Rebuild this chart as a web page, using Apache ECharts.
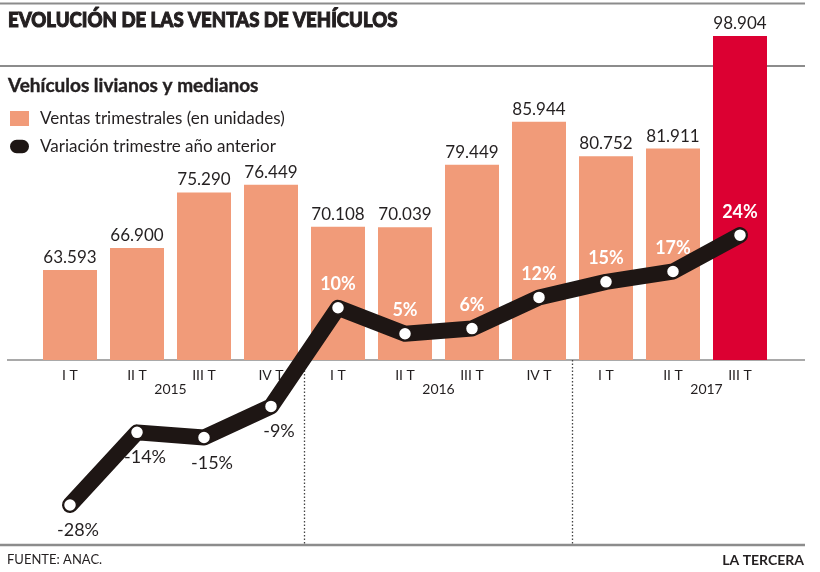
<!DOCTYPE html>
<html>
<head>
<meta charset="utf-8">
<script src="https://cdn.jsdelivr.net/npm/echarts@6/dist/echarts.min.js"></script>
<style>
html,body{margin:0;padding:0;background:#fff;}
#c{width:820px;height:572px;}
</style>
</head>
<body>
<div id="c"></div>
<script>
// ---- data ----
var trimestres = ['I T','II T','III T','IV T','I T','II T','III T','IV T','I T','II T','III T'];
var anios = ['2015','2016','2017'];
var trimestresPorAnio = [4, 4, 3];
var ventas = [63593, 66900, 75290, 76449, 70108, 70039, 79449, 85944, 80752, 81911, 98904];
var variacion = [-28, -14, -15, -9, 10, 5, 6, 12, 15, 17, 24];
var titulo = 'EVOLUCIÓN DE LAS VENTAS DE VEHÍCULOS';
var subtitulo = 'Vehículos livianos y medianos';
var serieVentas = 'Ventas trimestrales (en unidades)';
var serieVariacion = 'Variación trimestre año anterior';
var fuente = 'FUENTE: ANAC.';
var medio = 'LA TERCERA';

// ---- styles ----
var SALMON = '#f19b79';
var RED = '#dc0032';
var INK = '#1e1614';
var TXT = '#231f20';
var GRAY = '#8c8c8c';
var FONT = 'Lato, "Noto Sans", sans-serif';

function miles(v){ return String(v).replace(/\B(?=(\d{3})+(?!\d))/g, '.'); }

var chart = echarts.init(document.getElementById('c'), null, {renderer:'canvas'});

var barData = ventas.map(function(v, i){
  return {value: v, itemStyle: {color: i === ventas.length - 1 ? RED : SALMON}};
});
var lineData = variacion.map(function(v){
  var neg = v < 0;
  return {
    value: v,
    label: neg ? {position:'bottom', distance: 9, offset:[8,0], color: TXT, fontWeight:'normal'}
               : {position:'top', distance: 7, color:'#fff', fontWeight:'bold'}
  };
});

var gridL = 36.5, gridW = 737;

var option = {
  backgroundColor: '#fff',
  animation: false,
  textStyle: {fontFamily: FONT},
  legend: {
    orient: 'vertical', left: 10, top: 110, padding: 0,
    itemWidth: 19, itemHeight: 15, itemGap: 11,
    selectedMode: false,
    textStyle: {fontSize: 17, color: TXT, fontFamily: FONT, padding:[0,0,0,6]},
    data: [
      {name: serieVentas, icon: 'rect', itemStyle: {color: SALMON}},
      {name: serieVariacion, icon: 'path://M7,0H13A7,7,0,0,1,13,14H7A7,7,0,0,1,7,0Z', itemStyle: {color: INK, borderWidth:0}}
    ]
  },
  grid: [
    {left: gridL, width: gridW, top: 28.65, bottom: 212},
    {left: gridL, width: gridW, top: 204, bottom: 56.6}
  ],
  xAxis: [
    {type:'category', gridIndex:0, data: trimestres,
     axisLine:{show:false}, axisTick:{show:false},
     axisLabel:{color: TXT, fontSize: 14, margin: 8, fontFamily: FONT}},
    {type:'category', gridIndex:1, data: trimestres, show:false}
  ],
  yAxis: [
    {type:'value', gridIndex:0, min: 50000, max: 100000, show:false, splitLine:{show:false}},
    {type:'value', gridIndex:1, min: -30, max: 30, show:false, splitLine:{show:false}}
  ],
  series: [
    {
      name: serieVentas, type:'bar', xAxisIndex:0, yAxisIndex:0,
      data: barData, barWidth: 54, z: 2,
      label: {show:true, position:'top', distance: 4, fontSize: 17, color: TXT, fontFamily: FONT,
              formatter: function(p){ return miles(p.value); }}
    },
    {
      name: serieVariacion, type:'line', xAxisIndex:1, yAxisIndex:1,
      data: lineData, z: 5,
      lineStyle: {color: INK, width: 16, cap:'round', join:'round'},
      symbol:'circle', symbolSize: 13,
      itemStyle: {color:'#fff', borderColor: INK, borderWidth: 1.5},
      label: {show:true, fontSize: 18, fontFamily: FONT,
              formatter: function(p){ return p.value + '%'; }}
    }
  ]
};
chart.setOption(option);

// ---- decorations computed from axes ----
function xPix(i){ return chart.convertToPixel({xAxisIndex:0}, i); }
var yBase = chart.convertToPixel({yAxisIndex:0}, 50000);
var g = [];
function hline(y, x1, x2, w){
  g.push({type:'line', z:-1, shape:{x1:x1, y1:y, x2:x2, y2:y}, style:{stroke:GRAY, lineWidth:w}});
}
hline(3.5, 0, 805, 2);
hline(66, 0, 805, 2);
hline(545, 0, 805, 2.5);
hline(yBase, 7, 805, 1.5);

var start = 0;
trimestresPorAnio.forEach(function(n, k){
  var cx = (xPix(start + 1) + xPix(start + 2)) / 2;
  g.push({type:'text', x: cx, y: yBase + 29, style:{text: anios[k], font: '14px ' + FONT, fill: TXT, textAlign:'center', textVerticalAlign:'middle'}});
  if (k > 0) {
    var sx = (xPix(start - 1) + xPix(start)) / 2;
    g.push({type:'line', z:-1, shape:{x1:sx, y1:yBase, x2:sx, y2:545}, style:{stroke:'#444', lineWidth:1.3, lineDash:[1.5,2]}});
  }
  start += n;
});

g.push({type:'text', x: 8, y: 21, scaleX: 0.93, style:{text: titulo, font: '900 20px ' + FONT, fill: TXT, stroke: TXT, lineWidth: 1, textVerticalAlign:'middle'}});
g.push({type:'text', x: 8, y: 86, style:{text: subtitulo, font: 'bold 19px ' + FONT, fill: TXT, stroke: TXT, lineWidth: 0.4, textVerticalAlign:'middle'}});
g.push({type:'text', x: 7, y: 560, style:{text: fuente, font: '13px ' + FONT, fill: TXT, textVerticalAlign:'middle'}});
g.push({type:'text', x: 804, y: 560, style:{text: medio, font: 'bold 14px ' + FONT, fill: TXT, textAlign:'right', textVerticalAlign:'middle'}});

chart.setOption({graphic: g});
</script>
</body>
</html>
